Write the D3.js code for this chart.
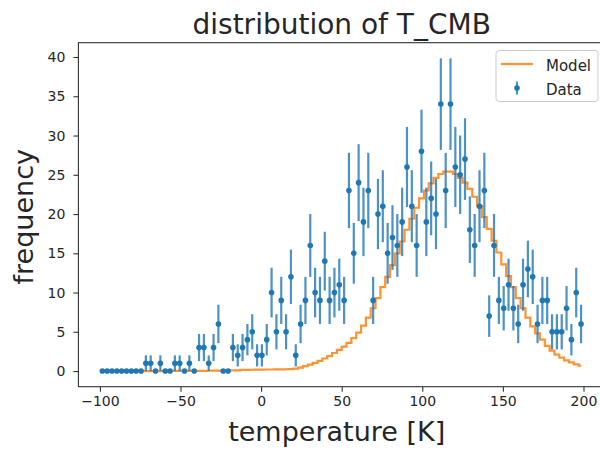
<!DOCTYPE html>
<html>
<head>
<meta charset="utf-8">
<script src="https://cdn.jsdelivr.net/npm/d3@7"></script>
<style>
  body { margin: 0; background: #fff; }
  text { font-family: "DejaVu Sans", sans-serif; fill: #262626; }
</style>
</head>
<body>
<div id="chart"></div>
<script>
// histogram of T_CMB: 100 bins of 3 K from -100 to 200
const binStart = -100;
const binWidth = 3;

// observed counts per bin
const counts = [
  0, 0, 0, 0, 0, 0, 0, 0, 0, 1,
  1, 0, 1, 0, 0, 1, 1, 0, 1, 0,
  3, 3, 1, 3, 6, 0, 0, 3, 2, 3,
  4, 5, 2, 2, 4, 10, 5, 9, 5, 12,
  2, 6, 9, 16, 10, 9, 14, 9, 10, 11,
  9, 23, 15, 24, 19, 23, 9, 20, 21, 15,
  17, 16, 19, 26, 21, 16, 28, 19, 22, 20,
  34, 23, 34, 26, 25, 27, 18, 16, 21, 23,
  7, 16, 9, 8, 11, 8, 6, 11, 13, 12,
  6, 9, 9, 5, 5, 5, 8, 4, 10, 6
];

// model expectation per bin
const model = [
  0, 0, 0, 0, 0, 0, 0, 0, 0, 0,
  0, 0, 0, 0, 0, 0.02, 0.02, 0.02, 0.02, 0.02,
  0.03, 0.03, 0.04, 0.05, 0.05, 0.06, 0.07, 0.08, 0.1, 0.15,
  0.16, 0.17, 0.18, 0.19, 0.2, 0.2, 0.21, 0.22, 0.23, 0.25,
  0.3, 0.45, 0.62, 0.82, 1.05, 1.3, 1.6, 1.9, 2.3, 2.7,
  3.1, 3.6, 4.2, 4.9, 5.8, 6.8, 8.0, 9.3, 10.7, 12.0,
  13.5, 15.0, 16.5, 18.0, 19.4, 20.8, 22.0, 23.0, 23.9, 24.6,
  25.1, 25.4, 25.4, 25.1, 24.6, 24.0, 23.2, 22.2, 21.0, 19.6,
  18.1, 16.6, 15.1, 13.6, 12.1, 10.7, 9.3, 8.0, 6.8, 5.7,
  4.8, 4.0, 3.2, 2.6, 2.1, 1.7, 1.35, 1.1, 0.85, 0.7
];

const xTicks = [-100, -50, 0, 50, 100, 150, 200];
const yTicks = [0, 5, 10, 15, 20, 25, 30, 35, 40];
const legendLabels = ["Model", "Data"];

(function () {
  const WIDTH = 600, HEIGHT = 450;
  const BLUE = "#1f77b4", ORANGE = "#ff7f0e";

  // axes box (right edge falls just outside the picture, as in the original)
  const axLeft = 78.4, axTop = 42.7, axBottom = 386.7, axRight = 605;

  const centers = counts.map((_, i) => binStart + binWidth * (i + 0.5));
  const points = counts.map((c, i) => ({ x: centers[i], y: c, err: Math.sqrt(c) }));

  const xmin = d3.min(centers), xmax = d3.max(centers);
  const xpad = (xmax - xmin) * 0.05;
  const x = d3.scaleLinear().domain([xmin - xpad, xmax + xpad]).range([axLeft, axRight]);

  const ymax = d3.max(points, d => d.y + d.err);
  const ypad = ymax * 0.05;
  const y = d3.scaleLinear().domain([-ypad, ymax + ypad]).range([axBottom, axTop]);

  const svg = d3.select("#chart").append("svg")
    .attr("width", WIDTH)
    .attr("height", HEIGHT);

  // model step line
  const step = d3.line()
    .x((d, i) => x(centers[i]))
    .y(d => y(d))
    .curve(d3.curveStep);

  svg.append("path")
    .datum(model)
    .attr("d", step)
    .attr("fill", "none")
    .attr("stroke", ORANGE)
    .attr("stroke-opacity", 0.85)
    .attr("stroke-width", 2.2);

  // error bars
  svg.append("g")
    .selectAll("line")
    .data(points.filter(d => d.err > 0))
    .join("line")
    .attr("x1", d => x(d.x))
    .attr("x2", d => x(d.x))
    .attr("y1", d => y(d.y - d.err))
    .attr("y2", d => y(d.y + d.err))
    .attr("stroke", BLUE)
    .attr("stroke-opacity", 0.8)
    .attr("stroke-width", 2.2);

  // markers
  svg.append("g")
    .selectAll("circle")
    .data(points)
    .join("circle")
    .attr("cx", d => x(d.x))
    .attr("cy", d => y(d.y))
    .attr("r", 2.8)
    .attr("fill", BLUE);

  // axes
  const xAxis = d3.axisBottom(x).tickValues(xTicks).tickSize(5).tickPadding(4);
  const yAxis = d3.axisLeft(y).tickValues(yTicks).tickSize(5).tickPadding(8);

  const gx = svg.append("g").attr("transform", `translate(0,${axBottom})`).call(xAxis);
  const gy = svg.append("g").attr("transform", `translate(${axLeft},0)`).call(yAxis);
  [gx, gy].forEach(g => {
    g.select(".domain").remove();
    g.selectAll("line").attr("stroke", "#333").attr("stroke-width", 1.1);
    g.selectAll("text").attr("font-size", 14).attr("fill", "#262626")
      .style("font-family", "'DejaVu Sans', sans-serif");
  });

  // spines
  svg.append("rect")
    .attr("x", axLeft).attr("y", axTop)
    .attr("width", axRight - axLeft).attr("height", axBottom - axTop)
    .attr("fill", "none")
    .attr("stroke", "#333")
    .attr("stroke-width", 1.1);

  // title and labels
  svg.append("text")
    .attr("x", (axLeft + axRight) / 2).attr("y", 34)
    .attr("text-anchor", "middle")
    .attr("font-size", 28)
    .text("distribution of T_CMB");

  svg.append("text")
    .attr("x", (axLeft + axRight) / 2 - 5).attr("y", 441)
    .attr("text-anchor", "middle")
    .attr("font-size", 27)
    .text("temperature [K]");

  svg.append("text")
    .attr("transform", `translate(33,${(axTop + axBottom) / 2 + 2}) rotate(-90)`)
    .attr("text-anchor", "middle")
    .attr("font-size", 27)
    .text("frequency");

  // legend
  const lg = svg.append("g").attr("transform", "translate(496,50.5)");
  lg.append("rect")
    .attr("width", 102).attr("height", 51).attr("rx", 3)
    .attr("fill", "#fff").attr("fill-opacity", 0.8)
    .attr("stroke", "#ccc");
  lg.append("line")
    .attr("x1", 5).attr("x2", 37).attr("y1", 13.5).attr("y2", 13.5)
    .attr("stroke", ORANGE).attr("stroke-opacity", 0.85).attr("stroke-width", 2.2);
  lg.append("line")
    .attr("x1", 21).attr("x2", 21).attr("y1", 31).attr("y2", 44)
    .attr("stroke", BLUE).attr("stroke-opacity", 0.8).attr("stroke-width", 2.2);
  lg.append("circle")
    .attr("cx", 21).attr("cy", 37.5).attr("r", 2.8).attr("fill", BLUE);
  lg.selectAll("text.lab")
    .data(legendLabels)
    .join("text")
    .attr("class", "lab")
    .attr("x", 50)
    .attr("y", (d, i) => 20.5 + i * 23.5)
    .attr("font-size", 15)
    .text(d => d);
})();
</script>
</body>
</html>
